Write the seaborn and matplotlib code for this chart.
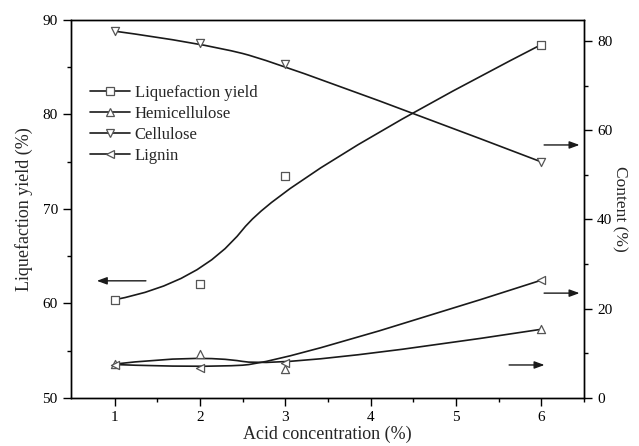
import numpy as np
import pandas as pd
import matplotlib
matplotlib.use("Agg")
import matplotlib.pyplot as plt
import seaborn as sns
from matplotlib.path import Path
from matplotlib.patches import PathPatch, FancyArrowPatch
from matplotlib.lines import Line2D

# ---- data ----
acid = [1, 2, 3, 6]
liquefaction = [60.4, 62.1, 73.5, 87.4]
hemicellulose = [7.6, 9.8, 6.6, 15.4]
cellulose = [82.2, 79.6, 74.8, 52.9]
lignin = [7.5, 6.8, 7.9, 26.4]
series_names = ["Liquefaction yield", "Hemicellulose", "Cellulose", "Lignin"]

sns.set_theme(style="ticks")
plt.rcParams['font.family'] = ['Liberation Serif', 'DejaVu Serif']

fig = plt.figure(figsize=(6.39, 4.46), dpi=100)
ax = fig.add_axes([71 / 639, 1 - 398 / 446, 513 / 639, 378 / 446])
ax2 = ax.twinx()

mk_edge = "#555555"
mk_kw = dict(s=34, facecolor="white", edgecolor=mk_edge, linewidth=0.9, zorder=5)

def smooth(axis, xs, ys):
    # quadratic B-spline with the data points as control points
    pts = list(zip(xs, ys))
    verts = [pts[0]]
    codes = [Path.MOVETO]
    for i in range(1, len(pts) - 2):
        mid = ((pts[i][0] + pts[i + 1][0]) / 2, (pts[i][1] + pts[i + 1][1]) / 2)
        verts += [pts[i], mid]
        codes += [Path.CURVE3, Path.CURVE3]
    verts += [pts[-2], pts[-1]]
    codes += [Path.CURVE3, Path.CURVE3]
    axis.add_patch(PathPatch(Path(verts, codes), facecolor="none",
                             edgecolor="#1a1a1a", linewidth=1.2, zorder=3))

# left axis: liquefaction
smooth(ax, acid, liquefaction)
sns.scatterplot(x=acid, y=liquefaction, marker="s", ax=ax, **mk_kw)

# right axis: components
for vals, m in [(hemicellulose, "^"), (cellulose, "v"), (lignin, "<")]:
    smooth(ax2, acid, vals)
    sns.scatterplot(x=acid, y=vals, marker=m, ax=ax2, **mk_kw)

ax.set_xlim(0.49, 6.5)
ax.set_ylim(50, 90)
ax2.set_ylim(0, 84.7)

ax.set_xticks([1, 2, 3, 4, 5, 6])
ax.set_xticks([1.5, 2.5, 3.5, 4.5, 5.5, 6.5], minor=True)
ax.set_yticks([50, 60, 70, 80, 90])
ax.set_yticks([55, 65, 75, 85], minor=True)
ax2.set_yticks([0, 20, 40, 60, 80])
ax2.set_yticks([10, 30, 50, 70], minor=True)

for a in (ax, ax2):
    a.tick_params(which="major", length=5.5, width=1, direction="out", labelsize=11, colors="black", pad=4)
    a.tick_params(which="minor", length=3, width=1, direction="out", colors="black")
    for s in a.spines.values():
        s.set_linewidth(1.0)
        s.set_color("black")
        s.set_visible(True)
ax.tick_params(axis="x", which="both", top=False)
ax2.tick_params(axis="x", which="both", top=False, bottom=False)

ax.set_xlabel("Acid concentration (%)", fontsize=13, labelpad=1)
ax.set_ylabel("Liquefaction yield (%)", fontsize=13, labelpad=7)
ax2.set_ylabel("Content (%)", fontsize=12.5, rotation=270, labelpad=11)

# arrows
def arrow(axis, x0, x1, y):
    axis.add_patch(FancyArrowPatch((x0, y), (x1, y), arrowstyle="-|>,head_length=6,head_width=2.2",
                                   mutation_scale=1, color="#1a1a1a", linewidth=1.0, zorder=4))

arrow(ax, 1.40, 0.76, 62.4)
arrow(ax2, 6.0, 6.48, 56.7)
arrow(ax2, 6.0, 6.48, 23.5)
arrow(ax2, 5.59, 6.07, 7.4)

# legend
handles = [Line2D([], [], color="#1a1a1a", lw=1.2, marker=m, markersize=5.8,
                  markerfacecolor="white", markeredgecolor=mk_edge, markeredgewidth=0.9)
           for m in ["s", "^", "v", "<"]]
ax2.legend(handles, series_names, loc="upper left", bbox_to_anchor=(0.025, 0.845),
           frameon=False, fontsize=12, handlelength=2.4, handletextpad=0.25,
           labelspacing=0.3, borderaxespad=0.0)

fig.savefig("out.png", dpi=100)
